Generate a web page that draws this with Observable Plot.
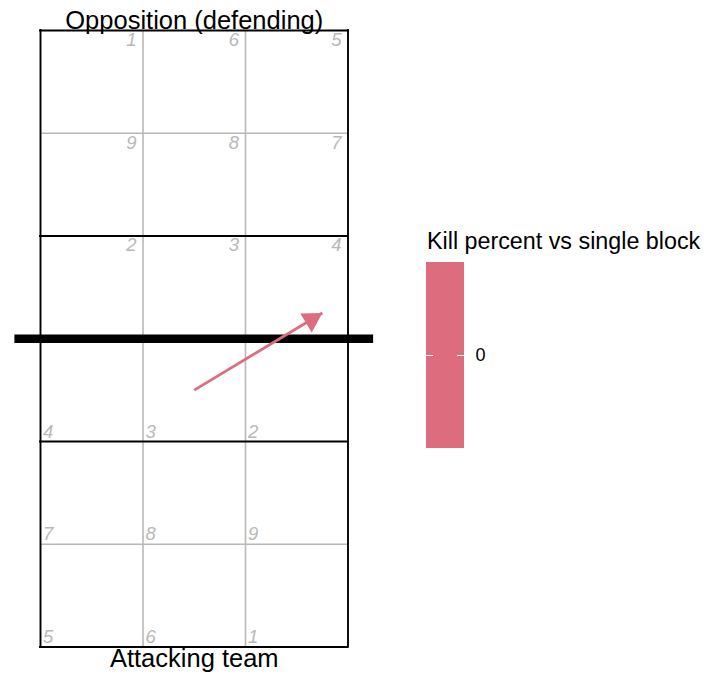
<!DOCTYPE html>
<html>
<head>
<meta charset="utf-8">
<script src="https://cdn.jsdelivr.net/npm/d3@7"></script>
<script src="https://cdn.jsdelivr.net/npm/@observablehq/plot@0.6"></script>
<style>
  body { margin: 0; background: #fff; font-family: "Liberation Sans", Arial, Helvetica, sans-serif; }
  #chart { position: relative; width: 718px; height: 677px; overflow: hidden; }
  #court { position: absolute; left: 0; top: 0; }
  #legend-title { position: absolute; left: 427px; top: 229.5px; font-size: 23.3px; line-height: 23.3px; white-space: nowrap; color: #000; }
  #legend { position: absolute; left: 426px; top: 262px; }
</style>
</head>
<body>
<div id="chart">
  <div id="court"></div>
  <div id="legend-title">Kill percent vs single block</div>
  <div id="legend"></div>
</div>
<script>
// ---- Court geometry (datavolley court coordinates) ----
const courtX = [0.5, 3.5];
const courtY = [0.5, 6.5];
const threeMeterY = [2.5, 4.5];
const netY = [3.5];
const netX = [0.25, 3.75];
const gridX = [1.5, 2.5];
const gridY = [1.5, 5.5];

// ---- Zone labels ----
const oppZones = ["1", "6", "5", "9", "8", "7", "2", "3", "4"];
const oppZoneCol = [1, 2, 3, 1, 2, 3, 1, 2, 3];
const oppZoneRow = [6, 6, 6, 5, 5, 5, 4, 4, 4];
const attZones = ["4", "3", "2", "7", "8", "9", "5", "6", "1"];
const attZoneCol = [1, 2, 3, 1, 2, 3, 1, 2, 3];
const attZoneRow = [3, 3, 3, 2, 2, 2, 1, 1, 1];

// ---- Attack (arrow) ----
const attackStartX = [2.0];
const attackStartY = [3.0];
const attackEndX = [3.25];
const attackEndY = [3.75];
const killPercent = [0];
const legendTicks = [0];

// ---- Titles ----
const topTitle = ["Opposition (defending)"];
const bottomTitle = ["Attacking team"];

const pink = "#dd6c7f";
const gray = "#b8b8b8";
const font = '"Liberation Sans", Arial, Helvetica, sans-serif';

const oppLabels = oppZones.map((z, i) => ({z, x: oppZoneCol[i] + 0.5, y: oppZoneRow[i] + 0.5}));
const attLabels = attZones.map((z, i) => ({z, x: attZoneCol[i] - 0.5, y: attZoneRow[i] - 0.5}));
const attacks = killPercent.map((k, i) => ({
  x1: attackStartX[i], y1: attackStartY[i], x2: attackEndX[i], y2: attackEndY[i], kill: k
}));

function triangleMarker(color, context) {
  const m = d3.create("svg:marker")
    .attr("viewBox", "-21 -12 22 24")
    .attr("markerWidth", 22)
    .attr("markerHeight", 24)
    .attr("markerUnits", "userSpaceOnUse")
    .attr("refX", 0)
    .attr("refY", 0)
    .attr("orient", "auto")
    .attr("overflow", "visible")
    .attr("fill", color)
    .attr("stroke", "none");
  m.append("path").attr("d", "M0,0L-19.1,-11.1L-19.1,11.1Z");
  return m.node();
}

const court = Plot.plot({
  width: 718,
  height: 677,
  marginLeft: 40,
  marginRight: 370.5,
  marginTop: 30,
  marginBottom: 30.5,
  x: {domain: courtX, axis: null},
  y: {domain: courtY, axis: null},
  color: {type: "ordinal", domain: killPercent, range: [pink]},
  style: {background: "transparent", overflow: "visible", fontFamily: font},
  marks: [
    Plot.ruleX(gridX, {y1: courtY[0], y2: courtY[1], stroke: gray, strokeWidth: 1.6}),
    Plot.ruleY(gridY, {x1: courtX[0], x2: courtX[1], stroke: gray, strokeWidth: 1.6}),
    Plot.ruleX(courtX, {y1: courtY[0], y2: courtY[1], stroke: "black", strokeWidth: 1.9, strokeLinecap: "square"}),
    Plot.ruleY(courtY.concat(threeMeterY), {x1: courtX[0], x2: courtX[1], stroke: "black", strokeWidth: 1.9, strokeLinecap: "square"}),
    Plot.ruleY(netY, {x1: netX[0], x2: netX[1], stroke: "black", strokeWidth: 8.5}),
    Plot.text(oppLabels, {x: "x", y: "y", text: "z", textAnchor: "end", lineAnchor: "top", dx: -6.5, dy: 2.3,
      fontSize: 18.5, fontStyle: "italic", fill: gray}),
    Plot.text(attLabels, {x: "x", y: "y", text: "z", textAnchor: "start", lineAnchor: "bottom", dx: 2.5, dy: -4,
      fontSize: 18.5, fontStyle: "italic", fill: gray}),
    Plot.link(attacks, {x1: "x1", y1: "y1", x2: "x2", y2: "y2", stroke: "kill", strokeWidth: 2.8,
      markerEnd: triangleMarker}),
    Plot.text(topTitle, {text: d => d, frameAnchor: "top", lineAnchor: "bottom", dy: -1.7, fontSize: 25.5, fill: "black"}),
    Plot.text(bottomTitle, {text: d => d, frameAnchor: "bottom", lineAnchor: "top", dy: 1.9, fontSize: 25.5, fill: "black"})
  ]
});
document.getElementById("court").append(court);

const legend = Plot.plot({
  width: 80,
  height: 186,
  marginLeft: 0,
  marginRight: 42,
  marginTop: 0,
  marginBottom: 0,
  y: {type: "band", domain: legendTicks, padding: 0, axis: null},
  color: {type: "ordinal", domain: killPercent, range: [pink]},
  style: {background: "transparent", overflow: "visible", fontFamily: font},
  marks: [
    Plot.cell(killPercent, {y: d => d, fill: d => d}),
    Plot.tickY(legendTicks, {y: d => d, stroke: "white", strokeWidth: 1, insetRight: 31}),
    Plot.tickY(legendTicks, {y: d => d, stroke: "white", strokeWidth: 1, insetLeft: 31}),
    Plot.text(legendTicks, {y: d => d, text: d => `${d}`, frameAnchor: "right", textAnchor: "start", dx: 11,
      fontSize: 18, fill: "black"})
  ]
});
document.getElementById("legend").append(legend);
</script>
</body>
</html>
